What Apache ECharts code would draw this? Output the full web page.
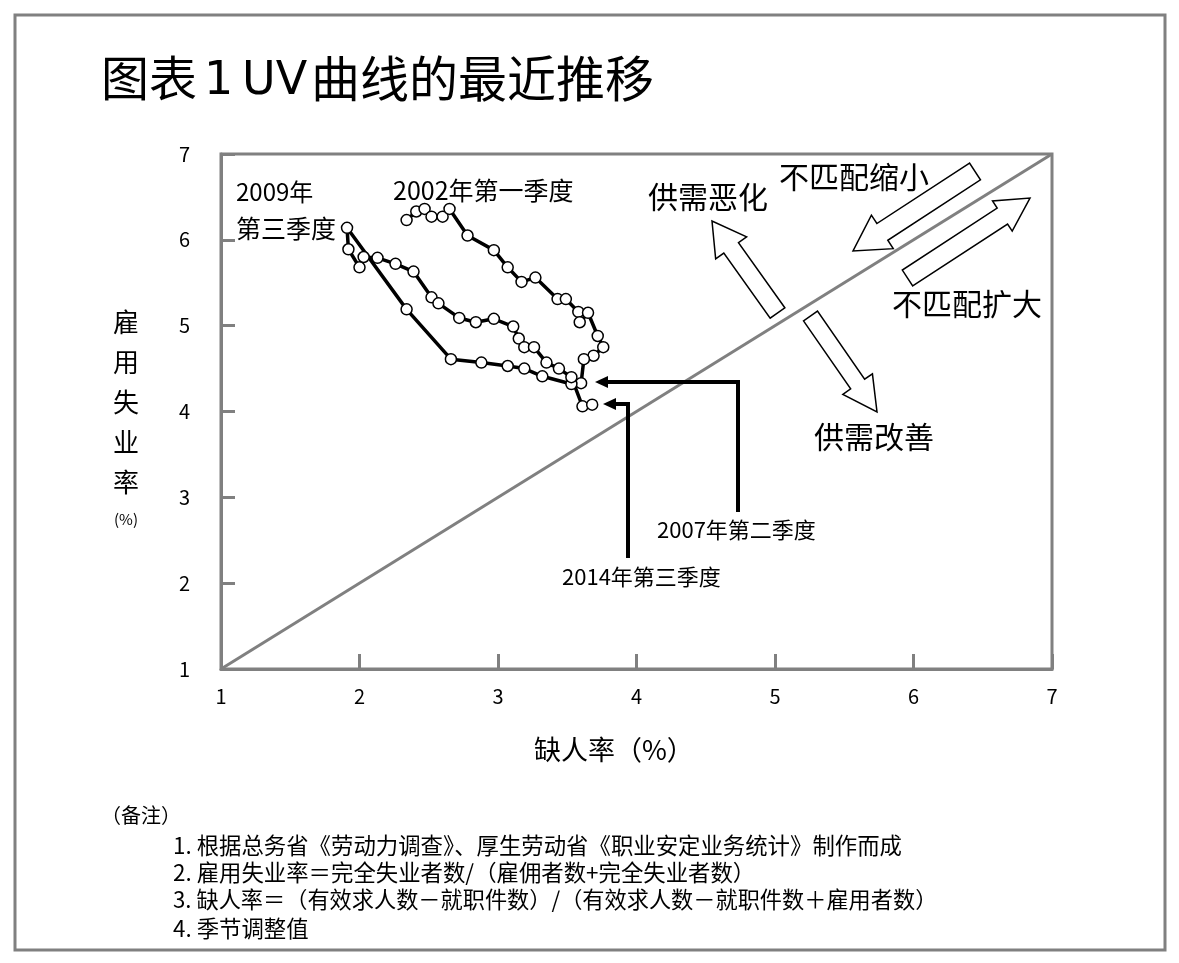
<!DOCTYPE html>
<html>
<head>
<meta charset="utf-8">
<title>UV曲线</title>
<script src="https://cdn.jsdelivr.net/npm/echarts@6/dist/echarts.min.js"></script>
<style>
  html, body { margin: 0; padding: 0; background: #fff; }
  #main { width: 1179px; height: 963px; }
</style>
</head>
<body>
<div id="main"></div>
<script>
// 缺人率 (x) / 雇用失业率 (y), 2002年第一季度 -> 2014年第三季度, 按季度
var vacancyRate = [
    2.34, 2.41, 2.47, 2.52, 2.60, 2.65, 2.78, 2.97, 3.07, 3.17, 3.27,
    3.43, 3.49, 3.58, 3.59, 3.65, 3.72, 3.76, 3.69, 3.62, 3.60,
    3.53, 3.32, 3.19, 3.07, 2.88, 2.66, 2.34, 1.91,
    1.92, 2.00, 2.03, 2.13, 2.26, 2.39, 2.52, 2.57, 2.72, 2.84, 2.97,
    3.11, 3.15, 3.19, 3.26, 3.35, 3.44, 3.53, 3.61, 3.68
];
var unemploymentRate = [
    6.23, 6.33, 6.36, 6.27, 6.27, 6.36, 6.05, 5.88, 5.68, 5.51, 5.56,
    5.31, 5.31, 5.16, 5.04, 5.15, 4.88, 4.75, 4.65, 4.61, 4.33,
    4.32, 4.41, 4.50, 4.53, 4.57, 4.61, 5.19, 6.14,
    5.89, 5.68, 5.80, 5.79, 5.72, 5.63, 5.33, 5.26, 5.09, 5.04, 5.08,
    4.99, 4.85, 4.75, 4.75, 4.57, 4.50, 4.40, 4.06, 4.08
];
var axisTicks = [1, 2, 3, 4, 5, 6, 7];
var diagonal = [[1, 1], [7, 7]];

var FONT = '"Noto Sans CJK SC", "Noto Sans", sans-serif';
var LATIN = '"DejaVu Sans", sans-serif';
var GRAY = '#808080';

var uvData = vacancyRate.map(function (v, i) { return [v, unemploymentRate[i]]; });

// hollow block arrow from tail to tip (pixel positions)
function blockArrow(tail, tip, shaftHalf, headHalf, headLen) {
    var dx = tip[0] - tail[0], dy = tip[1] - tail[1];
    var L = Math.sqrt(dx * dx + dy * dy);
    var ux = dx / L, uy = dy / L, nx = -uy, ny = ux;
    var bx = tip[0] - ux * headLen, by = tip[1] - uy * headLen;
    return {
        type: 'polygon',
        z: 20,
        shape: {
            points: [
                [tail[0] + nx * shaftHalf, tail[1] + ny * shaftHalf],
                [bx + nx * shaftHalf, by + ny * shaftHalf],
                [bx + nx * headHalf, by + ny * headHalf],
                tip,
                [bx - nx * headHalf, by - ny * headHalf],
                [bx - nx * shaftHalf, by - ny * shaftHalf],
                [tail[0] - nx * shaftHalf, tail[1] - ny * shaftHalf]
            ]
        },
        style: { fill: '#fff', stroke: '#000', lineWidth: 1.5 }
    };
}

// L-shaped callout with solid arrow head pointing left
function callout(x, yBottom, yTop, tipX) {
    return [
        {
            type: 'polyline', z: 20,
            shape: { points: [[x, yBottom], [x, yTop], [tipX + 10, yTop]] },
            style: { stroke: '#000', lineWidth: 4, fill: null }
        },
        {
            type: 'polygon', z: 20,
            shape: { points: [[tipX, yTop], [tipX + 13, yTop - 6], [tipX + 13, yTop + 6]] },
            style: { fill: '#000' }
        }
    ];
}

function label(text, x, y, size, align, family) {
    return {
        type: 'text', z: 30,
        style: {
            text: text, x: x, y: y,
            font: size + 'px ' + (family || FONT),
            fill: '#000',
            align: align || 'left',
            verticalAlign: 'middle'
        }
    };
}

var graphics = [
    {
        type: 'rect', z: 0,
        shape: { x: 15, y: 15, width: 1150, height: 935 },
        style: { fill: null, stroke: GRAY, lineWidth: 3 }
    },
    // title, split so the latin part gets the wider spacing of the original
    label('图表', 101, 78, 48),
    label('1', 204, 82, 46, 'left', LATIN),
    label('UV', 242, 82, 46, 'left', LATIN),
    label('曲线的最近推移', 311, 78, 49),
    {
        type: 'text', z: 30,
        style: {
            text: '雇\n用\n失\n业\n率', x: 126, y: 302,
            font: '26px ' + FONT, lineHeight: 40,
            fill: '#000', align: 'center', verticalAlign: 'top'
        }
    },
    label('(%)', 126, 519, 15, 'center'),
    label('缺人率（%）', 534, 750, 27),
    label('2009年', 236, 192, 24),
    label('第三季度', 236, 228, 25),
    label('2002年第一季度', 393, 190, 25),
    label('供需恶化', 648, 197, 30),
    label('不匹配缩小', 779, 177, 30),
    label('不匹配扩大', 892, 304, 30),
    label('供需改善', 814, 437, 30),
    label('2007年第二季度', 657, 530, 22),
    label('2014年第三季度', 562, 577, 22),
    blockArrow([777.5, 313], [712, 221], 9, 19, 33),
    blockArrow([975, 171.5], [853, 251], 10, 20, 35),
    blockArrow([907.5, 278], [1030, 198], 9.5, 18, 33),
    blockArrow([810.5, 316], [877, 412], 8.5, 18, 34),
    label('（备注）', 101, 815, 20),
    label('1. 根据总务省《劳动力调查》、厚生劳动省《职业安定业务统计》制作而成', 173, 845, 22.4),
    label('2. 雇用失业率＝完全失业者数/（雇佣者数+完全失业者数）', 173, 872, 22.4),
    label('3. 缺人率＝（有效求人数－就职件数）/（有效求人数－就职件数＋雇用者数）', 173, 900, 22.2),
    label('4. 季节调整值', 173, 928, 22.4)
].concat(callout(738, 512, 382, 595), callout(628, 558, 404, 603));

var chart = echarts.init(document.getElementById('main'));
var option = {
    animation: false,
    backgroundColor: '#fff',
    textStyle: { fontFamily: FONT },
    grid: {
        left: 221,
        right: 127,
        top: 154,
        bottom: 294,
        show: true,
        borderColor: GRAY,
        borderWidth: 3
    },
    xAxis: {
        type: 'value',
        min: axisTicks[0],
        max: axisTicks[axisTicks.length - 1],
        interval: 1,
        axisLine: { lineStyle: { color: GRAY, width: 3 } },
        axisTick: { inside: true, length: 15, lineStyle: { color: GRAY, width: 3 } },
        axisLabel: { fontSize: 20, color: '#000', margin: 17, fontFamily: FONT },
        splitLine: { show: false }
    },
    yAxis: {
        type: 'value',
        min: axisTicks[0],
        max: axisTicks[axisTicks.length - 1],
        interval: 1,
        axisLine: { show: true, lineStyle: { color: GRAY, width: 3 } },
        axisTick: { show: true, inside: true, length: 14, lineStyle: { color: GRAY, width: 3 } },
        axisLabel: { fontSize: 20, color: '#000', margin: 31, fontFamily: FONT },
        splitLine: { show: false }
    },
    series: [
        {
            type: 'line',
            data: diagonal,
            symbol: 'none',
            lineStyle: { color: GRAY, width: 3 },
            z: 2
        },
        {
            type: 'line',
            data: uvData,
            symbol: 'circle',
            symbolSize: 11,
            itemStyle: { color: '#fff', borderColor: '#000', borderWidth: 1.5 },
            lineStyle: { color: '#000', width: 3.5 },
            z: 5
        }
    ],
    graphic: graphics
};
chart.setOption(option);
</script>
</body>
</html>
